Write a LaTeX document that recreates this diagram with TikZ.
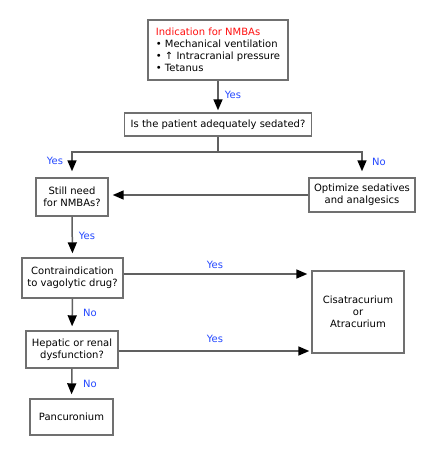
\documentclass[tikz,border=0pt]{standalone}
\usepackage{fontspec}
\setmainfont{DejaVu Sans}
\usetikzlibrary{arrows.meta}
\definecolor{boxgray}{HTML}{707070}
\definecolor{linegray}{HTML}{606060}
\definecolor{lblblue}{HTML}{2448FF}
\definecolor{hdred}{HTML}{FF1010}
\begin{document}
\begin{tikzpicture}[x=1pt,y=1pt,
  every node/.style={font=\fontsize{10}{12}\selectfont, text=black},
  box/.style={draw=boxgray, line width=1.4pt, fill=white, align=center, inner sep=0pt},
  conn/.style={draw=linegray, line width=1.5pt, -{Triangle[length=11pt,width=9pt,fill=black,color=black]}, shorten >=4pt},
  plain/.style={draw=linegray, line width=1.5pt},
  lbl/.style={text=lblblue, inner sep=0pt}]
\useasboundingbox (0,0) rectangle (436,-456);
\fill[white] (0,0) rectangle (436,-456);
\node[box, minimum width=140, minimum height=60, align=left] (b1) at (218,-50)
  {{\color{hdred}Indication for NMBAs}\\• Mechanical ventilation\\• ↑ Intracranial pressure\\• Tetanus};
\node[box, minimum width=187, minimum height=23] (b2) at (218,-124.5) {Is the patient adequately sedated?};
\node[box, minimum width=72, minimum height=38] (b3) at (72,-197) {Still need\\for NMBAs?};
\node[box, minimum width=106, minimum height=34] (b4) at (362,-195) {Optimize sedatives\\and analgesics};
\node[box, minimum width=101, minimum height=40] (b5) at (72.5,-278) {Contraindication\\to vagolytic drug?};
\node[box, minimum width=92, minimum height=82] (b6) at (358,-312) {Cisatracurium\\or\\Atracurium};
\node[box, minimum width=92, minimum height=37] (b7) at (72,-349.5) {Hepatic or renal\\dysfunction?};
\node[box, minimum width=83, minimum height=36] (b8) at (71.5,-417) {Pancuronium};
\coordinate (split) at (218,-152);
\draw[conn, shorten >=2pt] (b1.south) -- (b2.north);
\draw[plain] (b2.south) -- (split);
\draw[conn, shorten >=6pt] ([xshift=0.75pt]split) -| (b3.north);
\draw[conn, shorten >=6pt] ([xshift=-0.75pt]split) -| (b4.north);
\draw[conn] (b4.west) -- (b4.west -| b3.east);
\draw[conn] (b3.south) -- (b5.north);
\draw[conn] (b5.east |- 0,-274) -- (b6.west |- 0,-274);
\draw[conn] (b5.south) -- (b7.north);
\draw[conn, shorten >=2pt] (b7.east |- 0,-351) -- (b6.west |- 0,-351);
\draw[conn] (b7.south) -- (b8.north);
\node[lbl] (l1) at (233,-95) {Yes};
\node[lbl] (l2) at (55,-161) {Yes};
\node[lbl] (l3) at (379,-162) {No};
\node[lbl] (l4) at (87,-236) {Yes};
\node[lbl] (l5) at (215,-265) {Yes};
\node[lbl] (l6) at (90,-313) {No};
\node[lbl] (l7) at (215,-339) {Yes};
\node[lbl] (l8) at (90,-384) {No};
\end{tikzpicture}
\end{document}
